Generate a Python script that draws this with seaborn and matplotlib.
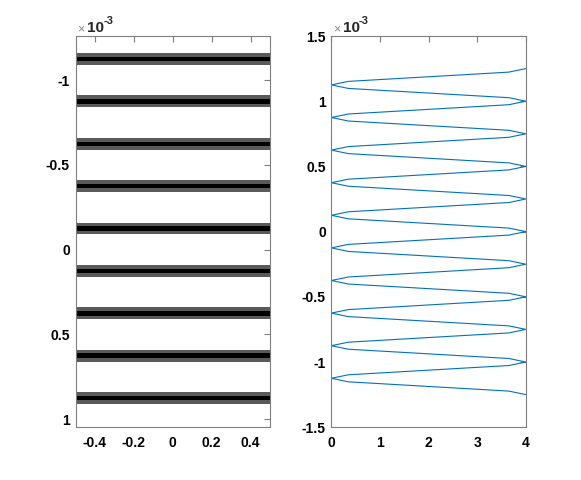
import numpy as np
import pandas as pd
import matplotlib
matplotlib.use("Agg")
import matplotlib.pyplot as plt
import seaborn as sns
from matplotlib.ticker import FuncFormatter

# left panel: horizontal bands (centres in units of 1e-3)
band_centers = [-1.125, -0.875, -0.625, -0.375, -0.125, 0.125, 0.375, 0.625, 0.875]
outer_height = 0.07      # grey part of each band
inner_height = 0.026     # black core
left_ylim = (1.047, -1.261)

# right panel: zig-zag ray path (y in units of 1e-3)
ray_x = [4.0,
         3.65, 0.35, 0.0, 0.35, 3.65, 4.0,
         3.65, 0.35, 0.0, 0.35, 3.65, 4.0,
         3.65, 0.35, 0.0, 0.35, 3.65, 4.0,
         3.65, 0.35, 0.0, 0.35, 3.65, 4.0,
         3.65, 0.35, 0.0, 0.35, 3.65, 4.0,
         3.65, 0.35, 0.0, 0.35, 3.65, 4.0,
         3.65, 0.35, 0.0, 0.35, 3.65, 4.0,
         3.65, 0.35, 0.0, 0.35, 3.65, 4.0,
         3.65, 0.35, 0.0, 0.35, 3.65, 4.0,
         3.65, 0.35, 0.0, 0.35, 3.65, 4.0]
ray_y = [1.25,
         1.223, 1.152, 1.125, 1.098, 1.027, 1.0,
         0.973, 0.902, 0.875, 0.848, 0.777, 0.75,
         0.723, 0.652, 0.625, 0.598, 0.527, 0.5,
         0.473, 0.402, 0.375, 0.348, 0.277, 0.25,
         0.223, 0.152, 0.125, 0.098, 0.027, 0.0,
         -0.027, -0.098, -0.125, -0.152, -0.223, -0.25,
         -0.277, -0.348, -0.375, -0.402, -0.473, -0.5,
         -0.527, -0.598, -0.625, -0.652, -0.723, -0.75,
         -0.777, -0.848, -0.875, -0.902, -0.973, -1.0,
         -1.027, -1.098, -1.125, -1.152, -1.223, -1.25]

sns.set_style("white")
plt.rcParams['font.family'] = ['Liberation Sans', 'DejaVu Sans']
plt.rcParams['axes.unicode_minus'] = False

axis_grey = '#7f7f7f'

fig = plt.figure(figsize=(5.81, 4.8), dpi=100)
ax1 = fig.add_axes([0.13, 0.11, 0.3347, 0.815])
ax2 = fig.add_axes([0.5703, 0.11, 0.3347, 0.815])

# Left: bands
centers = np.array(band_centers) * 1e-3
ax1.barh(centers, width=1.0, left=-0.5, height=outer_height * 1e-3, color='#5a5a5a', linewidth=0)
ax1.barh(centers, width=1.0, left=-0.5, height=inner_height * 1e-3, color='black', linewidth=0)
ax1.set_xlim(-0.5, 0.5)
ax1.set_ylim(left_ylim[0] * 1e-3, left_ylim[1] * 1e-3)
ax1.set_xticks([-0.4, -0.2, 0, 0.2, 0.4])
ax1.set_yticks(np.array([-1, -0.5, 0, 0.5, 1]) * 1e-3)

# Right: ray path
ray = pd.DataFrame({"x": ray_x, "y": np.array(ray_y) * 1e-3})
sns.lineplot(data=ray, x="x", y="y", sort=False, estimator=None, ax=ax2,
             color='#0072BD', linewidth=0.8)
ax2.set_xlim(0, 4)
ax2.set_ylim(-1.5e-3, 1.5e-3)
ax2.set_xticks([0, 1, 2, 3, 4])
ax2.set_yticks(np.array([-1.5, -1, -0.5, 0, 0.5, 1, 1.5]) * 1e-3)
ax2.set_xlabel("")
ax2.set_ylabel("")

for ax in (ax1, ax2):
    ax.yaxis.set_major_formatter(FuncFormatter(lambda v, p: f'{v * 1e3:g}'))
    ax.xaxis.set_major_formatter(FuncFormatter(lambda v, p: f'{v:g}'))
    for s in ax.spines.values():
        s.set_color(axis_grey)
        s.set_linewidth(0.8)
        s.set_visible(True)
    ax.tick_params(direction='in', top=True, right=True, length=4, width=0.8,
                   color=axis_grey, labelsize=10, labelcolor='black')
    ax.tick_params(axis='x', pad=6)
    ax.tick_params(axis='y', pad=4)
    for lab in ax.get_xticklabels() + ax.get_yticklabels():
        lab.set_fontweight('bold')
    # exponent label, MATLAB style
    ax.annotate('\u00d7', xy=(0, 1), xycoords='axes fraction', xytext=(1.5, 2.5),
                textcoords='offset points', fontsize=9, color='#888888', ha='left', va='baseline')
    ax.annotate('10', xy=(0, 1), xycoords='axes fraction', xytext=(8.5, 3),
                textcoords='offset points', fontsize=11, fontweight='bold', ha='left', va='baseline')
    ax.annotate('-3', xy=(0, 1), xycoords='axes fraction', xytext=(20, 8.5),
                textcoords='offset points', fontsize=8, fontweight='bold', ha='left', va='baseline')

fig.savefig("out.png", dpi=100)
